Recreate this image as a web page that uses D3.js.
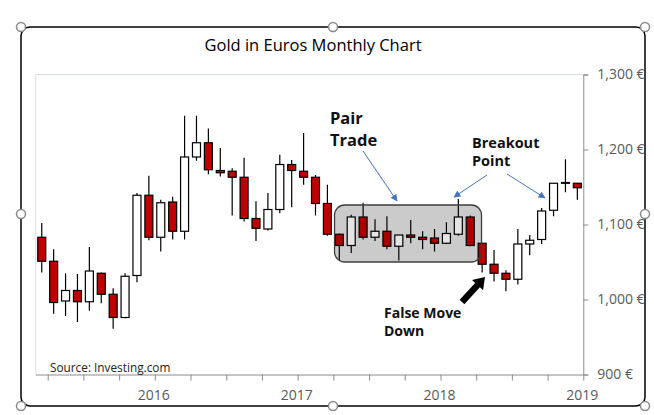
<!DOCTYPE html>
<html>
<head>
<meta charset="utf-8">
<script src="https://cdn.jsdelivr.net/npm/d3@7"></script>
<style>
  body { margin: 0; background: #fff; }
  text { font-family: "Open Sans", sans-serif; }
</style>
</head>
<body>
<div id="chart"></div>
<script>
// monthly gold price in euros (first candle = Mar 2015)
var months = ["2015-03","2015-04","2015-05","2015-06","2015-07","2015-08","2015-09","2015-10","2015-11","2015-12",
  "2016-01","2016-02","2016-03","2016-04","2016-05","2016-06","2016-07","2016-08","2016-09","2016-10","2016-11","2016-12",
  "2017-01","2017-02","2017-03","2017-04","2017-05","2017-06","2017-07","2017-08","2017-09","2017-10","2017-11","2017-12",
  "2018-01","2018-02","2018-03","2018-04","2018-05","2018-06","2018-07","2018-08","2018-09","2018-10","2018-11","2018-12"];
var openP  = [1083,1051,998,1012,997,1035,1007,976,1032,1139,1083,1130,1091,1190,1209,1172,1171,1163,1108,1094,1120,1180,1171,1163,1128,1087,1072,1110,1083,1091,1071,1086,1083,1082,1075,1087,1110,1075,1047,1035,1027,1074,1080,1119,1155,1155];
var highP  = [1102,1067,1035,1034,1070,1036,1015,1035,1142,1165,1133,1137,1245,1245,1228,1202,1175,1189,1131,1142,1193,1186,1222,1166,1153,1088,1113,1129,1107,1111,1086,1106,1091,1094,1103,1134,1112,1075,1066,1039,1094,1086,1122,1155,1187,1155];
var lowP   = [1036,981,978,970,985,995,961,975,1023,1079,1064,1080,1080,1185,1167,1164,1112,1104,1078,1092,1115,1123,1153,1112,1085,1053,1062,1080,1078,1067,1052,1075,1067,1064,1074,1085,1071,1036,1024,1011,1020,1059,1074,1111,1143,1133];
var closeP = [1051,996,1012,997,1038,1007,976,1031,1139,1083,1129,1091,1190,1209,1173,1169,1163,1108,1095,1120,1180,1172,1163,1128,1087,1072,1110,1083,1091,1071,1086,1083,1080,1075,1088,1110,1072,1047,1035,1027,1074,1079,1118,1155,1156,1149];
var yTicks = [900, 1000, 1100, 1200, 1300];

var svgWidth = 654, svgHeight = 415;
var plot = {left: 35.8, right: 583.3, top: 74.5, bottom: 374.5};

var svg = d3.select("#chart").append("svg")
  .attr("width", svgWidth)
  .attr("height", svgHeight);

var data = months.map(function(m, i) {
  return {month: m, open: openP[i], high: highP[i], low: lowP[i], close: closeP[i]};
});

// month index -> px, candle i sits in [i, i+1]
var x = d3.scaleLinear().domain([0, months.length]).range([plot.left, plot.right]);
var y = d3.scaleLinear().domain([900, 1300]).range([plot.bottom, plot.top]);
var bodyW = 8;

// chart frame
svg.append("rect")
  .attr("x", 21).attr("y", 27).attr("width", 624).attr("height", 379)
  .attr("rx", 9)
  .attr("fill", "#fff").attr("stroke", "#000").attr("stroke-width", 1.5);

svg.append("text")
  .attr("x", 313).attr("y", 51)
  .attr("text-anchor", "middle")
  .attr("font-size", "16.5px")
  .attr("fill", "#000")
  .text("Gold in Euros Monthly Chart");

// plot area border (left/top)
svg.append("path")
  .attr("d", `M${plot.left},${plot.bottom} V${plot.top} H${plot.right}`)
  .attr("fill", "none").attr("stroke", "#d6dce4").attr("stroke-width", 1);

// axes
var yAxis = svg.append("g")
  .attr("transform", `translate(${plot.right},0)`)
  .call(d3.axisRight(y).tickValues(yTicks).tickSize(5).tickPadding(9)
    .tickFormat(d => d3.format(",")(d) + " €"));

var qTicks = d3.range(1, months.length + 1, 3);
var xAxis = svg.append("g")
  .attr("transform", `translate(0,${plot.bottom})`)
  .call(d3.axisBottom(x).tickValues(qTicks).tickSize(6).tickPadding(10)
    .tickFormat(function(d) {
      var m = d < months.length ? months[d] : "2019-01";
      return m.slice(5) === "01" ? m.slice(0, 4) : "";
    }));

xAxis.select(".domain").attr("d", `M${plot.left},0.5H${plot.right}`);
[xAxis, yAxis].forEach(function(a) {
  a.select(".domain").attr("stroke", "#8c8c8c");
  a.selectAll(".tick line").attr("stroke", "#8c8c8c");
  a.selectAll(".tick text").attr("fill", "#595959").attr("font-size", "14px")
    .attr("font-family", "'Open Sans', sans-serif");
});
xAxis.selectAll(".tick text").attr("dx", "-1.5");

// gray box under candles
var box = {x0: 25.1, x1: 37.45, y0: 1126, y1: 1050};
svg.append("rect")
  .attr("x", x(box.x0)).attr("y", y(box.y0))
  .attr("width", x(box.x1) - x(box.x0)).attr("height", y(box.y1) - y(box.y0))
  .attr("rx", 10).attr("fill", "#e2e2e2");

// candles
var candles = svg.append("g").selectAll("g")
  .data(data).enter().append("g");

candles.append("line")
  .attr("x1", (d, i) => x(i + 0.5)).attr("x2", (d, i) => x(i + 0.5))
  .attr("y1", d => y(d.high)).attr("y2", d => y(d.low))
  .attr("stroke", "#000").attr("stroke-width", 1.2);

candles.append("rect")
  .attr("x", (d, i) => x(i + 0.5) - bodyW / 2)
  .attr("y", d => y(Math.max(d.open, d.close)))
  .attr("width", bodyW)
  .attr("height", d => Math.max(0.8, Math.abs(y(d.open) - y(d.close))))
  .attr("fill", d => d.close >= d.open ? "#fff" : "#c00000")
  .attr("stroke", "#000").attr("stroke-width", 1.2);

// translucent layer of the box on top
svg.append("rect")
  .attr("x", x(box.x0)).attr("y", y(box.y0))
  .attr("width", x(box.x1) - x(box.x0)).attr("height", y(box.y1) - y(box.y0))
  .attr("rx", 10).attr("fill", "#000").attr("fill-opacity", 0.1)
  .attr("stroke", "#3f3f3f").attr("stroke-width", 1.3);

svg.append("text")
  .attr("x", 50).attr("y", 372)
  .attr("font-size", "11.8px").attr("fill", "#222")
  .text("Source: Investing.com");

// annotations
var defs = svg.append("defs");
defs.append("marker")
  .attr("id", "blueHead")
  .attr("viewBox", "0 0 10 10").attr("refX", 9).attr("refY", 5)
  .attr("markerWidth", 7).attr("markerHeight", 7)
  .attr("orient", "auto")
  .append("path").attr("d", "M0,0 L10,5 L0,10 z").attr("fill", "#4472c4");

var arrows = [
  [363, 151, 397, 201],
  [487, 175, 454, 197],
  [507, 174, 545, 198]
];
svg.selectAll(".blue-arrow").data(arrows).enter().append("line")
  .attr("class", "blue-arrow")
  .attr("x1", d => d[0]).attr("y1", d => d[1])
  .attr("x2", d => d[2]).attr("y2", d => d[3])
  .attr("stroke", "#4472c4").attr("stroke-width", 1)
  .attr("marker-end", "url(#blueHead)");

function label(lines, xPos, yPos, size, lh) {
  var t = svg.append("text")
    .attr("x", xPos).attr("y", yPos)
    .attr("font-size", size + "px").attr("font-weight", "bold").attr("fill", "#111");
  lines.forEach(function(s, i) {
    t.append("tspan").attr("x", xPos).attr("dy", i ? lh : 0).text(s);
  });
}
label(["Pair", "Trade"], 330, 123.5, 16.5, 22.5);
label(["Breakout", "Point"], 472, 148, 14.5, 17.5);
label(["False Move", "Down"], 384, 318, 14, 18);

// black block arrow
var bx0 = 462, by0 = 302, bx1 = 485, by1 = 277;
var ang = Math.atan2(by1 - by0, bx1 - bx0);
var len = Math.hypot(bx1 - bx0, by1 - by0);
svg.append("path")
  .attr("transform", `translate(${bx0},${by0}) rotate(${ang * 180 / Math.PI})`)
  .attr("d", `M0,-3.2 L${len - 11},-3.2 L${len - 11},-7.5 L${len},0 L${len - 11},7.5 L${len - 11},3.2 L0,3.2 Z`)
  .attr("fill", "#000");

// selection handles
var handles = [[21, 27], [333, 27], [645, 27], [21, 214], [645, 214], [21, 406], [333, 406], [645, 406]];
svg.selectAll(".handle").data(handles).enter().append("circle")
  .attr("class", "handle")
  .attr("cx", d => d[0]).attr("cy", d => d[1]).attr("r", 4.5)
  .attr("fill", "#fff").attr("stroke", "#8a8a8a").attr("stroke-width", 1.5);
</script>
</body>
</html>
